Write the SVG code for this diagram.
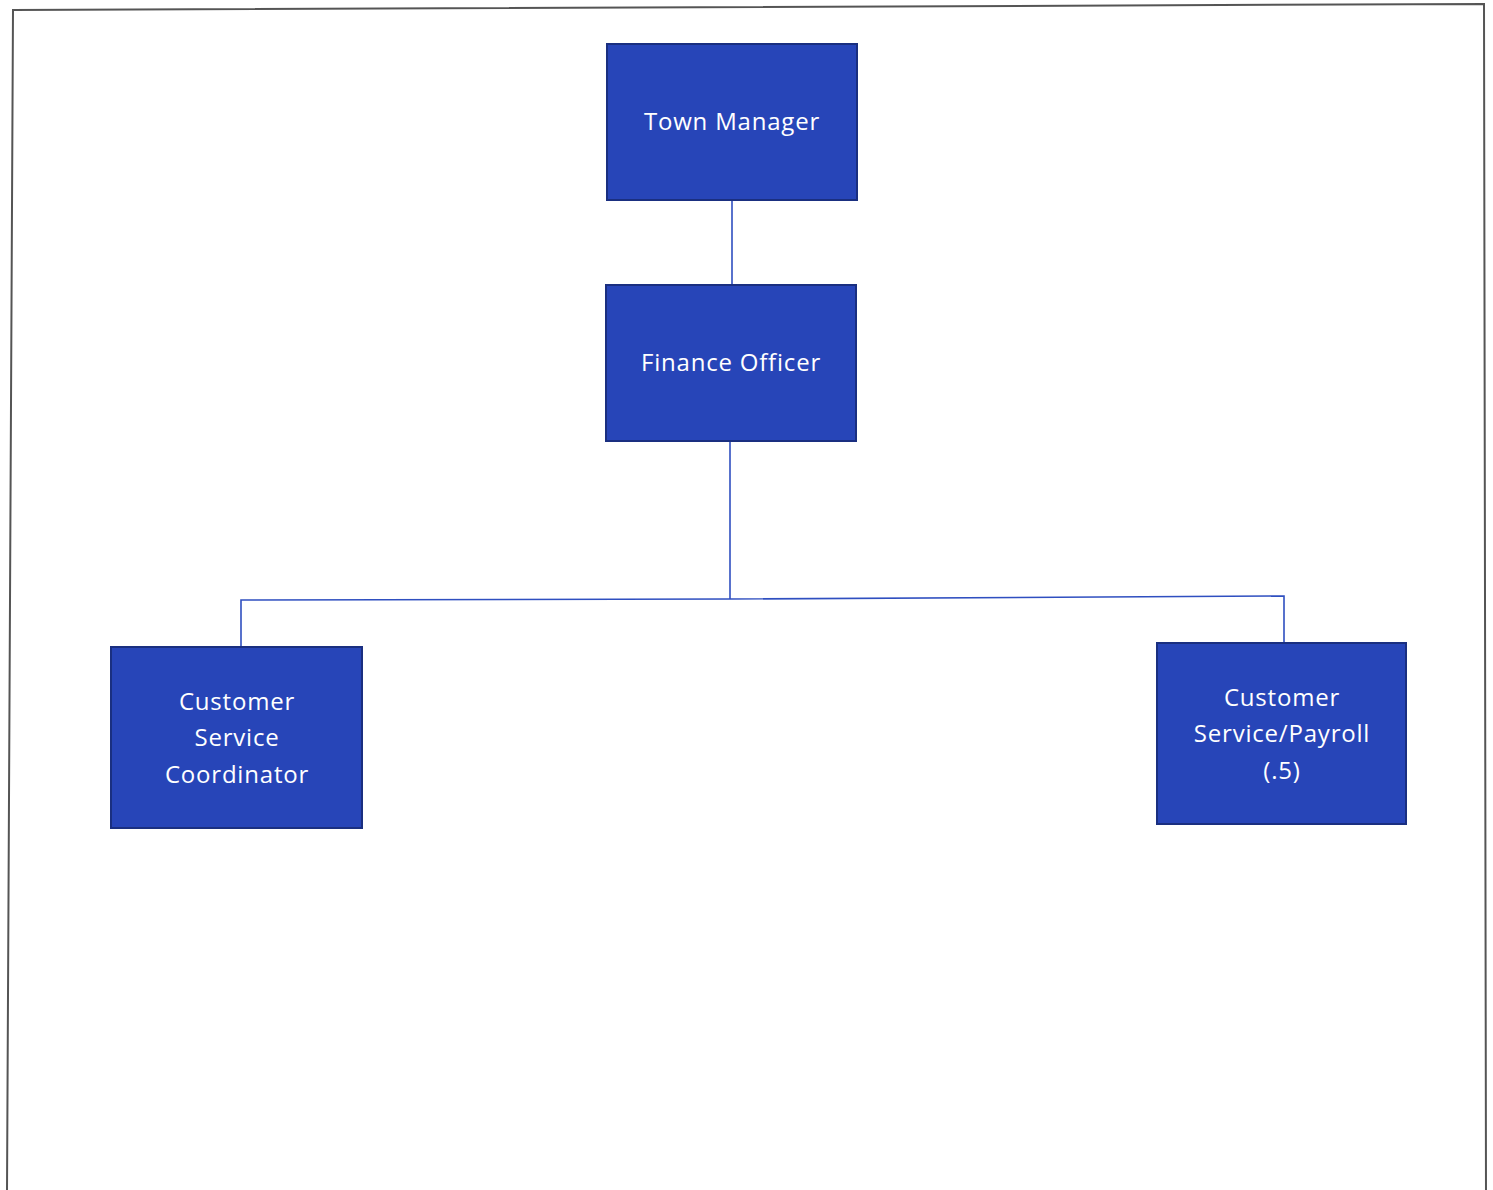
<svg xmlns="http://www.w3.org/2000/svg" width="1493" height="1190" viewBox="0 0 1493 1190">
<style>
.box{fill:#2745b8;stroke:#1a2f80;stroke-width:2}
.lbl{font-family:"Open Sans","Noto Sans",sans-serif;font-size:24px;fill:#ffffff;text-anchor:middle;letter-spacing:0.8px}
.con{fill:none;stroke:#2f4fc0;stroke-width:1.6}
</style>
<rect width="1493" height="1190" fill="#ffffff"/>
<polygon points="13,10 1484,4 1486,1192 7,1192" fill="none" stroke="#555555" stroke-width="2"/>
<g id="connectors">
<line class="con" x1="732" y1="201" x2="732" y2="284"/>
<line class="con" x1="730" y1="442" x2="730" y2="599"/>
<polyline class="con" points="241,646 241,600 730,599 1284,596 1284,642"/>
</g>
<g id="town-manager">
<rect class="box" x="607" y="44" width="250" height="156"/>
<text class="lbl" x="732" y="130">Town Manager</text>
</g>
<g id="finance-officer">
<rect class="box" x="606" y="285" width="250" height="156"/>
<text class="lbl" x="731" y="371">Finance Officer</text>
</g>
<g id="customer-service-coordinator">
<rect class="box" x="111" y="647" width="251" height="181"/>
<text class="lbl" x="237" y="710">Customer</text>
<text class="lbl" x="237" y="746">Service</text>
<text class="lbl" x="237" y="783">Coordinator</text>
</g>
<g id="customer-service-payroll">
<rect class="box" x="1157" y="643" width="249" height="181"/>
<text class="lbl" x="1282" y="706">Customer</text>
<text class="lbl" x="1282" y="742">Service/Payroll</text>
<text class="lbl" x="1282" y="779">(.5)</text>
</g>
</svg>
